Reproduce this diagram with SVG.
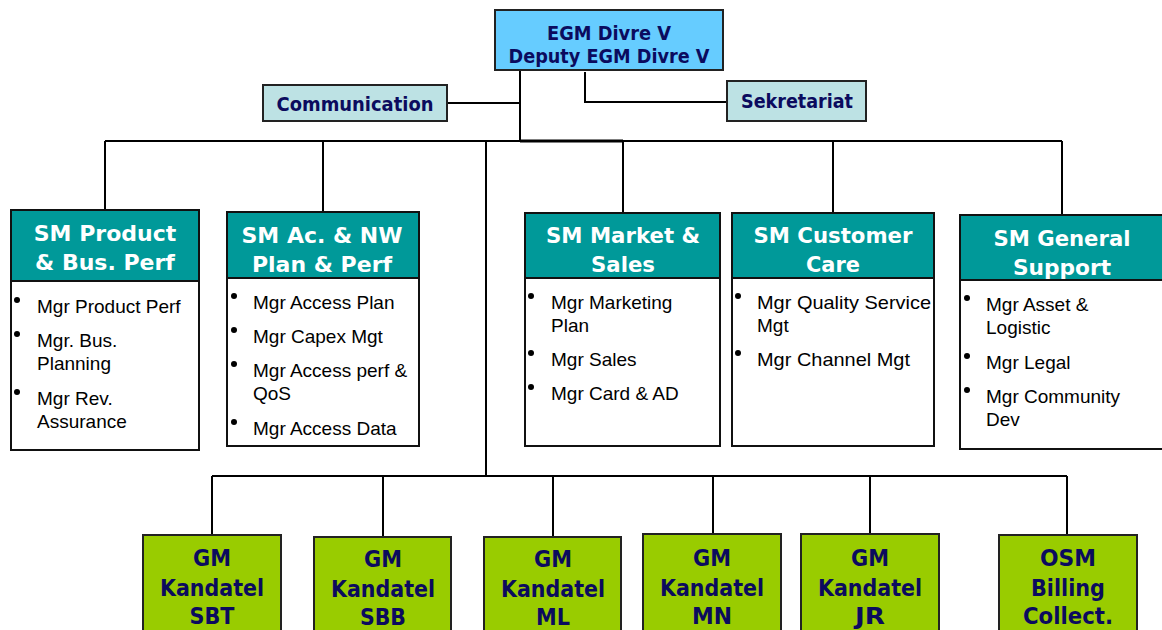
<svg xmlns="http://www.w3.org/2000/svg" width="1162" height="630" viewBox="0 0 1162 630">
<style>
.bg{fill:#ffffff}
.top{fill:#66CCFF;stroke:#222;stroke-width:2}
.aux{fill:#BDE2E4;stroke:#222;stroke-width:2}
.hdr{fill:#009999;stroke:#111;stroke-width:2}
.body{fill:#ffffff;stroke:#111;stroke-width:2}
.gm{fill:#99CC00;stroke:#222;stroke-width:2}
.nv{font-family:"DejaVu Sans",Verdana,sans-serif;font-weight:bold;fill:#0B0B5E;text-anchor:middle}
.wh{font-family:"DejaVu Sans",Verdana,sans-serif;font-weight:bold;fill:#ffffff;text-anchor:middle;font-size:22px}
.it{font-family:"Liberation Sans",Arial,sans-serif;font-size:19px;fill:#000}
.bl{fill:#000}
.cn{fill:none;stroke:#000;stroke-width:2}
</style>
<rect class="bg" x="0" y="0" width="1162" height="630"/>
<g id="connectors">
<path class="cn" d="M520 70 V141"/>
<path class="cn" d="M447 103 H520"/>
<path class="cn" d="M585 72 V102 H727"/>
<path class="cn" d="M105 141 H1062" stroke-width="1.8"/>
<path class="cn" d="M520 141 H623" style="stroke-width:3"/>
<path class="cn" d="M105 141 V210"/>
<path class="cn" d="M323 141 V212"/>
<path class="cn" d="M486 141 V476"/>
<path class="cn" d="M623 141 V213"/>
<path class="cn" d="M833 141 V213"/>
<path class="cn" d="M1062 141 V215"/>
<path class="cn" d="M212 476 H1067"/>
<path class="cn" d="M212 476 V535"/>
<path class="cn" d="M383 476 V537"/>
<path class="cn" d="M553 476 V537"/>
<path class="cn" d="M713 476 V534"/>
<path class="cn" d="M870 476 V534"/>
<path class="cn" d="M1067 476 V535"/>
</g>
<g id="egm">
<rect class="top" x="495" y="10" width="228" height="60"/>
<text class="nv" x="609" y="40" font-size="19.5" textLength="124" lengthAdjust="spacingAndGlyphs">EGM Divre V</text>
<text class="nv" x="609" y="63" font-size="19.5" textLength="201" lengthAdjust="spacingAndGlyphs">Deputy EGM Divre V</text>
</g>
<g id="communication">
<rect class="aux" x="263" y="85" width="184" height="36"/>
<text class="nv" x="355" y="111" font-size="19" textLength="157" lengthAdjust="spacingAndGlyphs">Communication</text>
</g>
<g id="sekretariat">
<rect class="aux" x="727" y="81" width="139" height="40"/>
<text class="nv" x="797" y="108" font-size="19" textLength="112" lengthAdjust="spacingAndGlyphs">Sekretariat</text>
</g>
<g id="sm-product">
<rect class="body" x="11" y="210" width="188" height="240"/>
<rect class="hdr" x="11" y="210" width="188" height="71"/>
<text class="wh" x="105" y="241">SM Product</text>
<text class="wh" x="105" y="270">&amp; Bus. Perf</text>
<circle class="bl" cx="17" cy="300" r="3"/>
<circle class="bl" cx="17" cy="334" r="3"/>
<circle class="bl" cx="17" cy="392" r="3"/>
<text class="it" x="37" y="313">Mgr Product Perf</text>
<text class="it" x="37" y="347">Mgr. Bus.</text>
<text class="it" x="37" y="370">Planning</text>
<text class="it" x="37" y="405">Mgr Rev.</text>
<text class="it" x="37" y="428">Assurance</text>
</g>
<g id="sm-access">
<rect class="body" x="227" y="212" width="192" height="234"/>
<rect class="hdr" x="227" y="212" width="192" height="66"/>
<text class="wh" x="322" y="243">SM Ac. &amp; NW</text>
<text class="wh" x="322" y="272">Plan &amp; Perf</text>
<circle class="bl" cx="234" cy="296" r="3"/>
<circle class="bl" cx="234" cy="330" r="3"/>
<circle class="bl" cx="234" cy="364" r="3"/>
<circle class="bl" cx="234" cy="422" r="3"/>
<text class="it" x="253" y="309">Mgr Access Plan</text>
<text class="it" x="253" y="343">Mgr Capex Mgt</text>
<text class="it" x="253" y="377">Mgr Access perf &amp;</text>
<text class="it" x="253" y="400">QoS</text>
<text class="it" x="253" y="435">Mgr Access Data</text>
</g>
<g id="sm-market">
<rect class="body" x="525" y="213" width="195" height="233"/>
<rect class="hdr" x="525" y="213" width="195" height="65"/>
<text class="wh" x="623" y="243" font-size="23" textLength="154" lengthAdjust="spacingAndGlyphs">SM Market &amp;</text>
<text class="wh" x="623" y="272" font-size="23" textLength="64" lengthAdjust="spacingAndGlyphs">Sales</text>
<circle class="bl" cx="531" cy="296" r="3"/>
<circle class="bl" cx="531" cy="353" r="3"/>
<circle class="bl" cx="531" cy="387" r="3"/>
<text class="it" x="551" y="309">Mgr Marketing</text>
<text class="it" x="551" y="332">Plan</text>
<text class="it" x="551" y="366">Mgr Sales</text>
<text class="it" x="551" y="400">Mgr Card &amp; AD</text>
</g>
<g id="sm-customer">
<rect class="body" x="732" y="213" width="202" height="233"/>
<rect class="hdr" x="732" y="213" width="202" height="65"/>
<text class="wh" x="833" y="243" font-size="23" textLength="159" lengthAdjust="spacingAndGlyphs">SM Customer</text>
<text class="wh" x="833" y="272" font-size="23" textLength="54" lengthAdjust="spacingAndGlyphs">Care</text>
<circle class="bl" cx="738" cy="296" r="3"/>
<circle class="bl" cx="738" cy="353" r="3"/>
<text class="it" x="757" y="309" textLength="174" lengthAdjust="spacingAndGlyphs">Mgr Quality Service</text>
<text class="it" x="757" y="332">Mgt</text>
<text class="it" x="757" y="366" textLength="153" lengthAdjust="spacingAndGlyphs">Mgr Channel Mgt</text>
</g>
<g id="sm-general">
<rect class="body" x="960" y="215" width="210" height="234"/>
<rect class="hdr" x="960" y="215" width="210" height="65"/>
<text class="wh" x="1062" y="246" font-size="23" textLength="137" lengthAdjust="spacingAndGlyphs">SM General</text>
<text class="wh" x="1062" y="275" font-size="23" textLength="98" lengthAdjust="spacingAndGlyphs">Support</text>
<circle class="bl" cx="967" cy="298" r="3"/>
<circle class="bl" cx="967" cy="356" r="3"/>
<circle class="bl" cx="967" cy="390" r="3"/>
<text class="it" x="986" y="311">Mgr Asset &amp;</text>
<text class="it" x="986" y="334">Logistic</text>
<text class="it" x="986" y="369">Mgr Legal</text>
<text class="it" x="986" y="403">Mgr Community</text>
<text class="it" x="986" y="426">Dev</text>
</g>
<g id="gm-sbt">
<rect class="gm" x="143" y="535" width="138" height="110"/>
<text class="nv" x="212" y="566" font-size="23" textLength="38" lengthAdjust="spacingAndGlyphs">GM</text>
<text class="nv" x="212" y="596" font-size="23" textLength="104" lengthAdjust="spacingAndGlyphs">Kandatel</text>
<text class="nv" x="212" y="624" font-size="23" textLength="45" lengthAdjust="spacingAndGlyphs">SBT</text>
</g>
<g id="gm-sbb">
<rect class="gm" x="314" y="537" width="137" height="110"/>
<text class="nv" x="383" y="567" font-size="23" textLength="38" lengthAdjust="spacingAndGlyphs">GM</text>
<text class="nv" x="383" y="597" font-size="23" textLength="104" lengthAdjust="spacingAndGlyphs">Kandatel</text>
<text class="nv" x="383" y="625" font-size="23" textLength="46" lengthAdjust="spacingAndGlyphs">SBB</text>
</g>
<g id="gm-ml">
<rect class="gm" x="484" y="537" width="137" height="110"/>
<text class="nv" x="553" y="567" font-size="23" textLength="38" lengthAdjust="spacingAndGlyphs">GM</text>
<text class="nv" x="553" y="597" font-size="23" textLength="104" lengthAdjust="spacingAndGlyphs">Kandatel</text>
<text class="nv" x="553" y="625" font-size="23" textLength="34" lengthAdjust="spacingAndGlyphs">ML</text>
</g>
<g id="gm-mn">
<rect class="gm" x="643" y="534" width="138" height="110"/>
<text class="nv" x="712" y="566" font-size="23" textLength="38" lengthAdjust="spacingAndGlyphs">GM</text>
<text class="nv" x="712" y="596" font-size="23" textLength="104" lengthAdjust="spacingAndGlyphs">Kandatel</text>
<text class="nv" x="712" y="624" font-size="23" textLength="40" lengthAdjust="spacingAndGlyphs">MN</text>
</g>
<g id="gm-jr">
<rect class="gm" x="801" y="534" width="138" height="110"/>
<text class="nv" x="870" y="566" font-size="23" textLength="38" lengthAdjust="spacingAndGlyphs">GM</text>
<text class="nv" x="870" y="596" font-size="23" textLength="104" lengthAdjust="spacingAndGlyphs">Kandatel</text>
<text class="nv" x="870" y="624" font-size="23" textLength="30" lengthAdjust="spacingAndGlyphs">JR</text>
</g>
<g id="osm-billing">
<rect class="gm" x="999" y="535" width="138" height="110"/>
<text class="nv" x="1068" y="566" font-size="23" textLength="56" lengthAdjust="spacingAndGlyphs">OSM</text>
<text class="nv" x="1068" y="596" font-size="23" textLength="74" lengthAdjust="spacingAndGlyphs">Billing</text>
<text class="nv" x="1068" y="624" font-size="23" textLength="90" lengthAdjust="spacingAndGlyphs">Collect.</text>
</g>
</svg>
